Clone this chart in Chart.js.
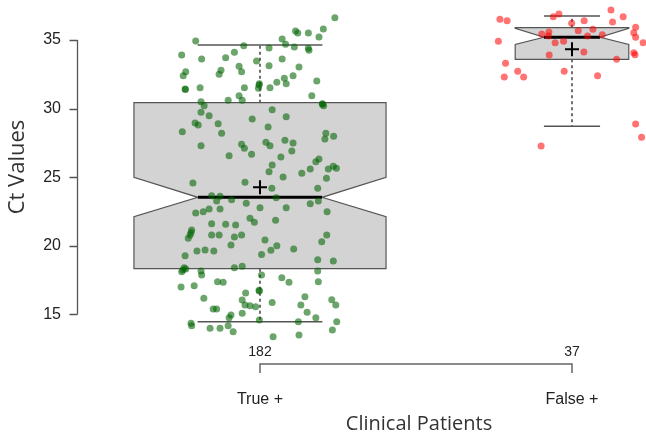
<!DOCTYPE html>
<html>
<head>
<meta charset="utf-8">
<script src="https://cdn.jsdelivr.net/npm/chart.js@4.4.1/dist/chart.umd.min.js"></script>
<style>
  html, body { margin: 0; padding: 0; background: #fff; }
  canvas { display: block; }
</style>
</head>
<body>
<canvas id="ct-chart" width="646" height="434"></canvas>
<script>
// groups on the x axis (positions 1 and 2)
const categories = ["True +", "False +"];
const yTicks = [15, 20, 25, 30, 35];

// box statistics per group, in Ct units
const whiskerLow = [14.45, 28.71];
const q1 = [18.33, 33.59];
const medians = [23.53, 35.2];
const q3 = [30.43, 35.9];
const whiskerHigh = [34.64, 36.75];
const notchLow = [22.12, 34.68];
const notchHigh = [24.99, 35.85];
const means = [24.26, 34.32];

// jittered points: x offset from the group position, and the Ct value
const trueJitter = [
  -0.206, -0.251, -0.187, -0.110, -0.082, -0.052, -0.011, 0.029, -0.238, -0.246,
  -0.125, -0.131, -0.067, -0.059, -0.240, -0.239, -0.192, -0.050, -0.002, -0.005,
  0.032, -0.067, -0.057, -0.102, -0.189, -0.179, -0.189, -0.163, -0.025, 0.240,
  0.203, 0.114, 0.121, 0.155, 0.189, 0.071, 0.082, 0.110, 0.155, 0.157,
  0.071, 0.029, 0.125, 0.106, 0.078, 0.084, 0.054, 0.182, 0.166, 0.200,
  0.204, 0.039, 0.084, -0.208, -0.198, -0.134, -0.249, -0.123, 0.026, 0.019,
  0.032, -0.189, -0.059, -0.050, -0.099, -0.027, 0.029, -0.215, -0.048, -0.155,
  -0.128, -0.139, -0.091, -0.044, 0.000, -0.206, -0.182, -0.163, -0.128, -0.032,
  -0.018, -0.155, -0.110, -0.078, -0.219, 0.211, 0.208, 0.236, 0.080, 0.106,
  0.102, 0.067, 0.039, 0.189, 0.179, 0.161, 0.219, 0.235, 0.245, 0.134,
  0.074, 0.213, 0.038, 0.185, 0.052, 0.187, 0.161, 0.084, 0.215, 0.050,
  -0.224, -0.230, -0.155, -0.131, -0.082, -0.059, -0.093, -0.202, -0.176, -0.148,
  -0.240, 0.005, -0.243, -0.251, -0.238, -0.189, -0.187, -0.082, -0.057, 0.005,
  -0.253, -0.211, -0.136, -0.118, -0.180, -0.046, -0.003, -0.057, -0.048, -0.032,
  -0.014, -0.150, -0.139, -0.057, -0.093, -0.099, -0.221, -0.219, -0.160, -0.128,
  -0.102, -0.086, -0.002, 0.016, 0.035, 0.054, 0.108, 0.214, 0.198, 0.185,
  0.235, 0.185, 0.187, 0.070, 0.093, 0.039, 0.144, 0.131, 0.151, 0.179,
  0.230, 0.243, 0.246, 0.232, 0.123, 0.042, 0.125, -0.002, -0.221, -0.247,
  -0.003, 0.200
];
const trueCt = [
  34.93, 33.91, 33.61, 33.71, 34.10, 34.58, 33.47, 34.42, 32.69, 32.40,
  32.79, 32.50, 33.08, 32.69, 31.43, 31.39, 31.52, 31.52, 31.81, 31.48,
  31.52, 30.94, 30.60, 30.60, 30.50, 30.21, 29.73, 29.48, 29.24, 36.63,
  35.80, 35.66, 35.51, 35.51, 35.22, 35.07, 34.69, 34.49, 34.39, 34.25,
  33.61, 33.13, 33.03, 32.40, 32.21, 31.81, 31.92, 32.01, 30.94, 30.31,
  30.21, 29.92, 29.41, 28.95, 28.80, 28.90, 28.31, 28.20, 28.66, 27.54,
  27.29, 27.29, 27.40, 27.10, 26.56, 26.67, 25.40, 24.57, 24.62, 23.65,
  23.60, 23.26, 23.36, 23.09, 22.77, 22.39, 22.48, 22.68, 22.68, 22.00,
  21.71, 21.61, 21.56, 21.51, 21.15, 28.20, 27.78, 27.98, 27.69, 27.49,
  26.91, 26.47, 25.89, 26.32, 26.13, 25.59, 25.59, 25.79, 25.65, 25.28,
  25.01, 24.92, 24.19, 24.19, 23.50, 23.26, 23.06, 22.77, 22.48, 21.85,
  20.78, 20.54, 20.78, 20.78, 20.64, 20.78, 20.05, 19.62, 19.69, 19.62,
  19.27, 19.37, 18.40, 18.11, 18.30, 18.16, 17.87, 18.40, 18.50, 17.87,
  16.99, 17.09, 17.38, 17.33, 16.17, 16.55, 16.75, 16.04, 15.68, 15.63,
  15.55, 15.39, 15.39, 15.07, 14.95, 14.75, 14.34, 14.17, 13.98, 13.98,
  14.17, 13.73, 14.58, 20.42, 19.67, 20.00, 19.76, 20.78, 20.29, 18.98,
  18.89, 18.16, 17.38, 17.67, 17.33, 15.87, 16.28, 15.68, 15.15, 14.75,
  16.06, 15.68, 14.46, 13.86, 14.46, 13.37, 13.49, 16.70, 20.96, 18.23,
  31.72, 30.35
];
const falseJitter = [
  -0.231, -0.208, -0.236, -0.213, -0.174, -0.217, -0.155, -0.060, -0.042, -0.001,
  0.039, 0.125, 0.164, 0.130, 0.204, 0.198, 0.204, 0.228, 0.198, 0.202,
  -0.097, -0.074, -0.076, -0.054, -0.027, 0.020, 0.067, 0.050, 0.097, -0.073,
  0.038, 0.143, -0.025, 0.082, 0.204, 0.223, -0.099
];
const falseCt = [
  36.51, 36.41, 34.91, 33.30, 32.72, 32.30, 32.30, 36.70, 36.90, 36.22,
  36.41, 37.19, 36.70, 36.31, 35.93, 35.53, 35.20, 34.80, 34.07, 33.93,
  35.44, 35.58, 35.29, 34.80, 34.91, 35.68, 35.78, 35.29, 35.39, 33.91,
  34.13, 33.59, 32.72, 32.40, 28.88, 27.91, 27.27
];

const counts = [trueCt.length, falseCt.length];

function toPoints(pos, jitter, ct) {
  return ct.map((y, i) => ({ x: pos + jitter[i], y: y }));
}

// half widths in x units (box width follows sqrt(n))
const boxHalf = [0.404, 0.182];
const notchHalf = [0.199, 0.09];
const capHalf = [0.2, 0.09];

const boxPlugin = {
  id: "notchedBoxes",
  beforeDatasetsDraw(chart) {
    const { ctx, scales: { x, y } } = chart;
    ctx.save();
    categories.forEach((_, i) => {
      const c = i + 1;
      const L = x.getPixelForValue(c - boxHalf[i]);
      const R = x.getPixelForValue(c + boxHalf[i]);
      const nl = x.getPixelForValue(c - notchHalf[i]);
      const nr = x.getPixelForValue(c + notchHalf[i]);
      const cx = x.getPixelForValue(c);
      const yq1 = y.getPixelForValue(q1[i]);
      const yq3 = y.getPixelForValue(q3[i]);
      const ym = y.getPixelForValue(medians[i]);
      const ynl = y.getPixelForValue(notchLow[i]);
      const ynh = y.getPixelForValue(notchHigh[i]);

      // whiskers
      ctx.strokeStyle = "#111";
      ctx.lineWidth = 1.2;
      ctx.setLineDash([3, 3]);
      ctx.beginPath();
      ctx.moveTo(cx, yq3);
      ctx.lineTo(cx, y.getPixelForValue(whiskerHigh[i]));
      ctx.moveTo(cx, yq1);
      ctx.lineTo(cx, y.getPixelForValue(whiskerLow[i]));
      ctx.stroke();
      ctx.setLineDash([]);
      ctx.strokeStyle = "#555";
      ctx.lineWidth = 1.5;
      ctx.beginPath();
      [whiskerHigh[i], whiskerLow[i]].forEach(v => {
        const yy = y.getPixelForValue(v);
        ctx.moveTo(x.getPixelForValue(c - capHalf[i]), yy);
        ctx.lineTo(x.getPixelForValue(c + capHalf[i]), yy);
      });
      ctx.stroke();

      // notched box
      ctx.beginPath();
      ctx.moveTo(L, yq1);
      ctx.lineTo(L, ynl);
      ctx.lineTo(nl, ym);
      ctx.lineTo(L, ynh);
      ctx.lineTo(L, yq3);
      ctx.lineTo(R, yq3);
      ctx.lineTo(R, ynh);
      ctx.lineTo(nr, ym);
      ctx.lineTo(R, ynl);
      ctx.lineTo(R, yq1);
      ctx.closePath();
      ctx.fillStyle = "#d3d3d3";
      ctx.fill();
      ctx.strokeStyle = "#555";
      ctx.lineWidth = 1.2;
      ctx.stroke();

      // median
      ctx.strokeStyle = "#000";
      ctx.lineWidth = 3;
      ctx.beginPath();
      ctx.moveTo(nl, ym);
      ctx.lineTo(nr, ym);
      ctx.stroke();
    });
    ctx.restore();
  },
  afterDatasetsDraw(chart) {
    const { ctx, scales: { x, y } } = chart;
    ctx.save();
    ctx.strokeStyle = "#000";
    ctx.lineWidth = 2;
    means.forEach((m, i) => {
      const cx = x.getPixelForValue(i + 1);
      const cy = y.getPixelForValue(m);
      ctx.beginPath();
      ctx.moveTo(cx - 7, cy);
      ctx.lineTo(cx + 7, cy);
      ctx.moveTo(cx, cy - 7);
      ctx.lineTo(cx, cy + 7);
      ctx.stroke();
    });
    ctx.restore();
  },
  afterDraw(chart) {
    const { ctx, scales: { x, y } } = chart;
    const axisX = 77.5;
    ctx.save();

    // y axis, R style: only from first to last tick
    ctx.strokeStyle = "#555";
    ctx.lineWidth = 1.3;
    ctx.beginPath();
    ctx.moveTo(axisX, y.getPixelForValue(yTicks[0]));
    ctx.lineTo(axisX, y.getPixelForValue(yTicks[yTicks.length - 1]));
    yTicks.forEach(t => {
      const yy = Math.round(y.getPixelForValue(t)) + 0.5;
      ctx.moveTo(axisX - 8, yy);
      ctx.lineTo(axisX, yy);
    });
    ctx.stroke();
    ctx.fillStyle = "#222";
    ctx.font = "16px 'Liberation Sans', Arial, sans-serif";
    ctx.textAlign = "right";
    ctx.textBaseline = "middle";
    yTicks.forEach(t => ctx.fillText(String(t), 61, y.getPixelForValue(t)));

    // y title
    ctx.save();
    ctx.translate(18, 167);
    ctx.rotate(-Math.PI / 2);
    ctx.font = "22px 'Open Sans', sans-serif";
    ctx.fillStyle = "#333";
    ctx.textAlign = "center";
    ctx.fillText("Ct Values", 0, 0);
    ctx.restore();

    // counts and bracket
    const x1 = x.getPixelForValue(1);
    const x2 = x.getPixelForValue(2);
    ctx.fillStyle = "#222";
    ctx.font = "14px 'Liberation Sans', Arial, sans-serif";
    ctx.textAlign = "center";
    counts.forEach((n, i) => ctx.fillText(String(n), x.getPixelForValue(i + 1), 352));
    ctx.strokeStyle = "#666";
    ctx.lineWidth = 1.5;
    ctx.beginPath();
    ctx.moveTo(x1, 373);
    ctx.lineTo(x1, 364);
    ctx.lineTo(x2, 364);
    ctx.lineTo(x2, 373);
    ctx.stroke();

    // group labels
    ctx.font = "16px 'Liberation Sans', Arial, sans-serif";
    categories.forEach((c, i) => ctx.fillText(c, x.getPixelForValue(i + 1), 400));

    // x title
    ctx.font = "20px 'Open Sans', sans-serif";
    ctx.fillStyle = "#333";
    ctx.fillText("Clinical Patients", 419, 424);
    ctx.restore();
  }
};

new Chart(document.getElementById("ct-chart"), {
  type: "scatter",
  data: {
    datasets: [
      {
        label: categories[0],
        data: toPoints(1, trueJitter, trueCt),
        backgroundColor: "rgba(0,100,0,0.58)",
        borderWidth: 0,
        pointRadius: 3.5,
        clip: false,
      },
      {
        label: categories[1],
        data: toPoints(2, falseJitter, falseCt),
        backgroundColor: "rgba(255,0,0,0.55)",
        borderWidth: 0,
        pointRadius: 3.5,
        clip: false,
      },
    ],
  },
  options: {
    responsive: false,
    animation: false,
    layout: {
      autoPadding: false,
      padding: { left: 78, top: 0, right: 0, bottom: 94 },
    },
    scales: {
      x: { type: "linear", min: 0.4167, max: 2.2372, display: false },
      y: { min: 13.127, max: 37.917, display: false },
    },
    plugins: {
      legend: { display: false },
      tooltip: { enabled: false },
    },
  },
  plugins: [boxPlugin],
});
</script>
</body>
</html>
